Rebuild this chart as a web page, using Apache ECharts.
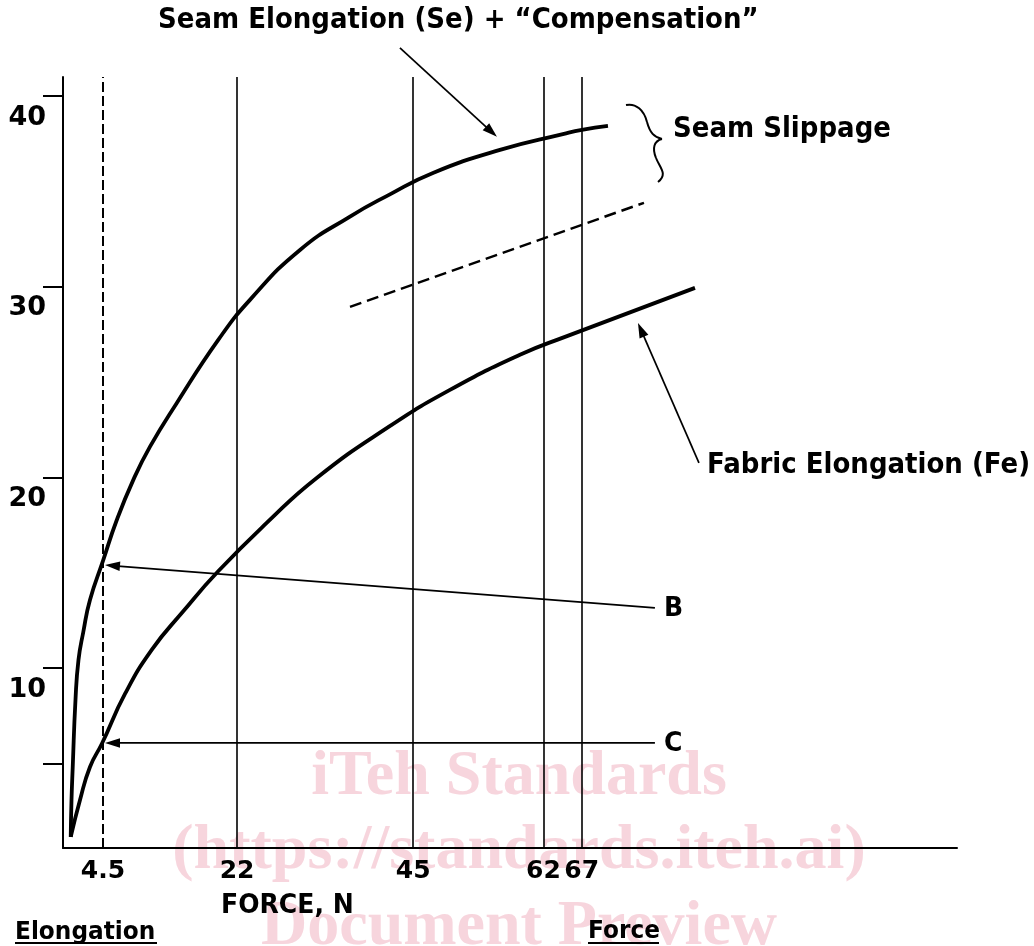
<!DOCTYPE html>
<html><head><meta charset="utf-8">
<script src="https://cdn.jsdelivr.net/npm/echarts@6/dist/echarts.min.js"></script>
<style>html,body{margin:0;padding:0;background:#fff}#c{width:1034px;height:946px}</style>
</head><body><div id="c"></div>
<script>
// ---- data (force in N, elongation) ----
const forceTicks = [4.5, 22, 45, 62, 67];
const elongTicks = [5, 10, 20, 30, 40];
const elongLabels = [10, 20, 30, 40];
const seForce = [0.29,0.39,0.55,0.91,1.30,1.93,2.80,4.5,6.29,8.46,10.64,14.12,19.55,23.69,30.22,36.75,41.84,47.58,56.33,64.68,67.03,70.43];
const seElong = [1.14,3.08,4.81,8.33,10.42,11.89,13.57,15.62,17.75,19.87,21.61,23.89,27.21,29.31,31.93,33.68,34.82,35.97,37.18,38.02,38.23,38.44];
const feForce = [0.29,1.50,2.80,4.37,7.37,10.86,14.95,19.51,25.87,32.40,41.84,49.80,58.94,64.82,81.79];
const feElong = [1.14,3.08,4.81,6.04,8.64,10.95,12.96,15.06,17.61,19.97,22.66,24.59,26.43,27.37,29.94];
const slipForce = [36.75, 75.13];
const slipElong = [28.94, 34.40];
// annotation arrows: [fromForce, fromElong, toForce, toElong]
const arrowTitle = [43.27, 42.53, 55.94, 37.86];
const arrowFe = [82.31, 20.76, 74.35, 28.10];
const arrowB = [76.56, 13.15, 4.76, 15.40];
const arrowC = [76.56, 6.07, 4.76, 6.07];

const pairs = (xs, ys) => xs.map((x, i) => [x, ys[i]]);
const FONT = '"DejaVu Sans", Verdana, sans-serif';
const bold = s => 'bold ' + s + 'px ' + FONT;

const chart = echarts.init(document.getElementById('c'), null, {renderer: 'canvas'});
const wmColor = '#f7d5dd';
const wmFont = 'bold 64px "Liberation Serif", "DejaVu Serif", serif';

chart.setOption({
  animation: false,
  backgroundColor: '#fff',
  grid: {left: 63, right: 77, top: 77, bottom: 98, containLabel: false},
  xAxis: {
    type: 'value', min: -0.72, max: 116,
    axisLine: {show: true, onZero: false, lineStyle: {color: '#000', width: 2}},
    axisTick: {show: false},
    axisLabel: {customValues: forceTicks, color: '#000', fontFamily: FONT, fontWeight: 'bold', fontSize: 25, margin: 11},
    splitLine: {show: false}
  },
  yAxis: {
    type: 'value', min: 0.56, max: 41.0,
    axisLine: {show: true, onZero: false, lineStyle: {color: '#000', width: 2}},
    axisTick: {show: true, customValues: elongTicks, length: 20, lineStyle: {color: '#000', width: 2}},
    axisLabel: {customValues: elongLabels, color: '#000', fontFamily: FONT, fontWeight: 'bold', fontSize: 27, margin: 17, verticalAlign: 'top', padding: [8, 0, 0, 0]},
    splitLine: {show: false}
  },
  series: [
    {
      name: 'Se', type: 'line', data: pairs(seForce, seElong), symbol: 'none', smooth: 0.5,
      lineStyle: {color: '#000', width: 3.8}, z: 5,
      markLine: {
        silent: true, symbol: ['none', 'none'], label: {show: false},
        lineStyle: {color: '#000', width: 1.6, type: 'solid'},
        data: forceTicks.map((v, i) => i === 0
          ? {xAxis: v, lineStyle: {type: [10, 4], width: 2, color: '#000'}}
          : {xAxis: v})
      }
    },
    {
      name: 'Fe', type: 'line', data: pairs(feForce, feElong), symbol: 'none', smooth: 0.5,
      lineStyle: {color: '#000', width: 3.8}, z: 5
    },
    {
      name: 'Slip', type: 'line', data: pairs(slipForce, slipElong), symbol: 'none',
      lineStyle: {color: '#000', width: 2.5, type: [12, 6]}, z: 5
    }
  ]
});

// annotations (arrows placed through the chart's own scales)
function arrow(a) {
  const p0 = chart.convertToPixel({gridIndex: 0}, [a[0], a[1]]);
  const p1 = chart.convertToPixel({gridIndex: 0}, [a[2], a[3]]);
  const dx = p1[0] - p0[0], dy = p1[1] - p0[1], L = Math.hypot(dx, dy);
  const ux = dx / L, uy = dy / L, hl = 15, hw = 4.8;
  const bx = p1[0] - ux * hl, by = p1[1] - uy * hl;
  return [
    {type: 'line', z: 10, shape: {x1: p0[0], y1: p0[1], x2: bx + ux * 2, y2: by + uy * 2}, style: {stroke: '#000', lineWidth: 1.7}},
    {type: 'polygon', z: 10, shape: {points: [[p1[0], p1[1]], [bx - uy * hw, by + ux * hw], [bx + uy * hw, by - ux * hw]]}, style: {fill: '#000'}}
  ];
}
const brace = (x1, y1, c1x, c1y, c2x, c2y, x2, y2) => ({
  type: 'bezierCurve', z: 10,
  shape: {x1: x1, y1: y1, cpx1: c1x, cpy1: c1y, cpx2: c2x, cpy2: c2y, x2: x2, y2: y2},
  style: {fill: 'none', stroke: '#000', lineWidth: 2}
});
const txt = (x, y, text, size) => ({
  type: 'text', z: 10, x: x, y: y, scaleX: 0.93,
  style: {x: 0, y: 0, text: text, font: bold(size), fill: '#000', textAlign: 'left', textVerticalAlign: 'middle'}
});
const wm = (y, text) => ({type: 'text', z: 0, style: {x: 519, y: y, text: text, font: wmFont, fill: wmColor, textAlign: 'center', textVerticalAlign: 'middle'}});

chart.setOption({
  graphic: [
    wm(777, 'iTeh Standards'),
    wm(851, '(https://standards.iteh.ai)'),
    wm(927, 'Document Preview'),
    txt(158, 21, 'Seam Elongation (Se) + \u201cCompensation\u201d', 28),
    txt(673, 130, 'Seam Slippage', 28),
    txt(707, 466, 'Fabric Elongation (Fe)', 28),
    txt(664, 609, 'B', 27),
    txt(664, 744, 'C', 27),
    txt(221, 906, 'FORCE, N', 27),
    txt(15, 932, 'Elongation', 25),
    {type: 'rect', z: 10, shape: {x: 15, y: 942, width: 142, height: 2}, style: {fill: '#000'}},
    txt(588, 931, 'Force', 25),
    {type: 'rect', z: 10, shape: {x: 588, y: 942, width: 71, height: 2}, style: {fill: '#000'}},
    brace(626, 105, 636, 103, 644, 110, 647, 122),
    brace(647, 122, 650, 133, 654, 137, 662, 139),
    brace(662, 139, 654, 141, 652, 148, 656, 158),
    brace(656, 158, 660, 168, 668, 174, 658, 182)
  ].concat(arrow(arrowTitle), arrow(arrowFe), arrow(arrowB), arrow(arrowC))
});
</script></body></html>
